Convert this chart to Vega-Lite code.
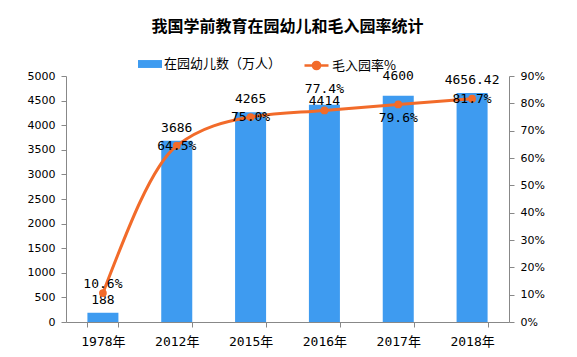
{
  "$schema": "https://vega.github.io/schema/vega-lite/v6.json",
  "width": 443,
  "height": 246,
  "autosize": {"type": "none"},
  "padding": {"left": 66, "top": 76, "right": 68, "bottom": 35},
  "background": "white",
  "title": {
    "text": "我国学前教育在园幼儿和毛入园率统计",
    "font": "Noto Sans CJK SC",
    "fontSize": 16,
    "fontWeight": "bold",
    "color": "#000000",
    "anchor": "middle",
    "offset": 17
  },
  "data": {
    "values": [
      {"year": "1978年", "children": 188, "rate": 0.106},
      {"year": "2012年", "children": 3686, "rate": 0.645},
      {"year": "2015年", "children": 4265, "rate": 0.750},
      {"year": "2016年", "children": 4414, "rate": 0.774},
      {"year": "2017年", "children": 4600, "rate": 0.796},
      {"year": "2018年", "children": 4656.42, "rate": 0.817}
    ]
  },
  "encoding": {
    "x": {
      "field": "year",
      "type": "nominal",
      "sort": null,
      "scale": {"paddingInner": 0.58, "paddingOuter": 0.29},
      "axis": {
        "title": null,
        "labelAngle": 0,
        "labelFont": "DejaVu Sans Mono, Noto Sans CJK SC",
        "labelFontSize": 13,
        "labelColor": "#000000",
        "labelPadding": 8,
        "domainColor": "#888888",
        "tickColor": "#888888",
        "tickSize": 5,
        "tickBand": "extent",
        "grid": false
      }
    }
  },
  "layer": [
    {
      "encoding": {
        "y": {
          "field": "children",
          "type": "quantitative",
          "scale": {"domain": [0, 5000], "nice": false},
          "axis": {
            "title": null,
            "orient": "left",
            "format": "d",
            "values": [0, 500, 1000, 1500, 2000, 2500, 3000, 3500, 4000, 4500, 5000],
            "labelFont": "DejaVu Sans",
            "labelFontSize": 11,
            "labelColor": "#000000",
            "labelPadding": 6,
            "domainColor": "#888888",
            "tickColor": "#888888",
            "tickSize": 5,
            "grid": false
          }
        }
      },
      "layer": [
        {
          "mark": {"type": "bar"},
          "encoding": {
            "fill": {
              "datum": "在园幼儿数（万人）",
              "type": "nominal",
              "scale": {"range": ["#3E9BF0"]},
              "legend": {
                "title": null,
                "orient": "none",
                "legendX": 72,
                "legendY": -24,
                "padding": 0,
                "symbolType": "M-1,-0.33H1V0.33H-1Z",
                "symbolSize": 576,
                "symbolStrokeWidth": 0,
                "labelOffset": 2,
                "labelFont": "Noto Sans CJK SC",
                "labelFontSize": 13,
                "labelColor": "#000000"
              }
            }
          }
        },
        {
          "transform": [{"filter": "datum.year != '2016年' && datum.year != '2017年'"}],
          "mark": {"type": "text", "baseline": "middle", "dy": -13, "font": "DejaVu Sans Mono, Noto Sans CJK SC", "fontSize": 13, "color": "#000000"},
          "encoding": {"text": {"field": "children", "type": "nominal"}}
        },
        {
          "transform": [{"filter": "datum.year == '2016年'"}],
          "mark": {"type": "text", "baseline": "middle", "dy": -4, "font": "DejaVu Sans Mono, Noto Sans CJK SC", "fontSize": 13, "color": "#000000"},
          "encoding": {"text": {"field": "children", "type": "nominal"}}
        },
        {
          "transform": [{"filter": "datum.year == '2017年'"}],
          "mark": {"type": "text", "baseline": "middle", "dy": -20, "font": "DejaVu Sans Mono, Noto Sans CJK SC", "fontSize": 13, "color": "#000000"},
          "encoding": {"text": {"field": "children", "type": "nominal"}}
        }
      ]
    },
    {
      "encoding": {
        "y": {
          "field": "rate",
          "type": "quantitative",
          "scale": {"domain": [0, 0.9], "nice": false},
          "axis": {
            "title": null,
            "orient": "right",
            "values": [0, 0.1, 0.2, 0.3, 0.4, 0.5, 0.6, 0.7, 0.8, 0.9],
            "format": ".0%",
            "labelFont": "DejaVu Sans",
            "labelFontSize": 11,
            "labelColor": "#000000",
            "labelPadding": 6,
            "domainColor": "#888888",
            "tickColor": "#888888",
            "tickSize": 5,
            "grid": false
          }
        }
      },
      "layer": [
        {
          "mark": {"type": "line", "interpolate": "monotone", "strokeWidth": 3},
          "encoding": {
            "stroke": {
              "datum": "毛入园率%",
              "type": "nominal",
              "scale": {"range": ["#F26B2A"]},
              "legend": {
                "title": null,
                "orient": "none",
                "legendX": 237,
                "legendY": -24,
                "padding": 0,
                "symbolType": "M-1,0H1M-0.3,0A0.3,0.3 0 1 0 0.3,0A0.3,0.3 0 1 0 -0.3,0",
                "symbolSize": 576,
                "symbolStrokeWidth": 2.5,
                "symbolFillColor": "#F26B2A",
                "labelOffset": 2,
                "labelFont": "Noto Sans CJK SC",
                "labelFontSize": 13,
                "labelColor": "#000000"
              }
            }
          }
        },
        {
          "mark": {"type": "point", "filled": true, "size": 60, "opacity": 1, "color": "#F26B2A"}
        },
        {
          "transform": [{"filter": "datum.year == '2012年' || datum.year == '2015年' || datum.year == '2018年'"}],
          "mark": {"type": "text", "baseline": "middle", "font": "DejaVu Sans Mono, Noto Sans CJK SC", "fontSize": 13, "color": "#000000"},
          "encoding": {"text": {"field": "rate", "type": "quantitative", "format": ".1%"}}
        },
        {
          "transform": [{"filter": "datum.year == '1978年'"}],
          "mark": {"type": "text", "baseline": "middle", "dy": -9, "font": "DejaVu Sans Mono, Noto Sans CJK SC", "fontSize": 13, "color": "#000000"},
          "encoding": {"text": {"field": "rate", "type": "quantitative", "format": ".1%"}}
        },
        {
          "transform": [{"filter": "datum.year == '2016年'"}],
          "mark": {"type": "text", "baseline": "middle", "dy": -21, "font": "DejaVu Sans Mono, Noto Sans CJK SC", "fontSize": 13, "color": "#000000"},
          "encoding": {"text": {"field": "rate", "type": "quantitative", "format": ".1%"}}
        },
        {
          "transform": [{"filter": "datum.year == '2017年'"}],
          "mark": {"type": "text", "baseline": "middle", "dy": 14, "font": "DejaVu Sans Mono, Noto Sans CJK SC", "fontSize": 13, "color": "#000000"},
          "encoding": {"text": {"field": "rate", "type": "quantitative", "format": ".1%"}}
        }
      ]
    }
  ],
  "resolve": {"scale": {"y": "independent"}},
  "config": {
    "view": {"stroke": null}
  }
}
